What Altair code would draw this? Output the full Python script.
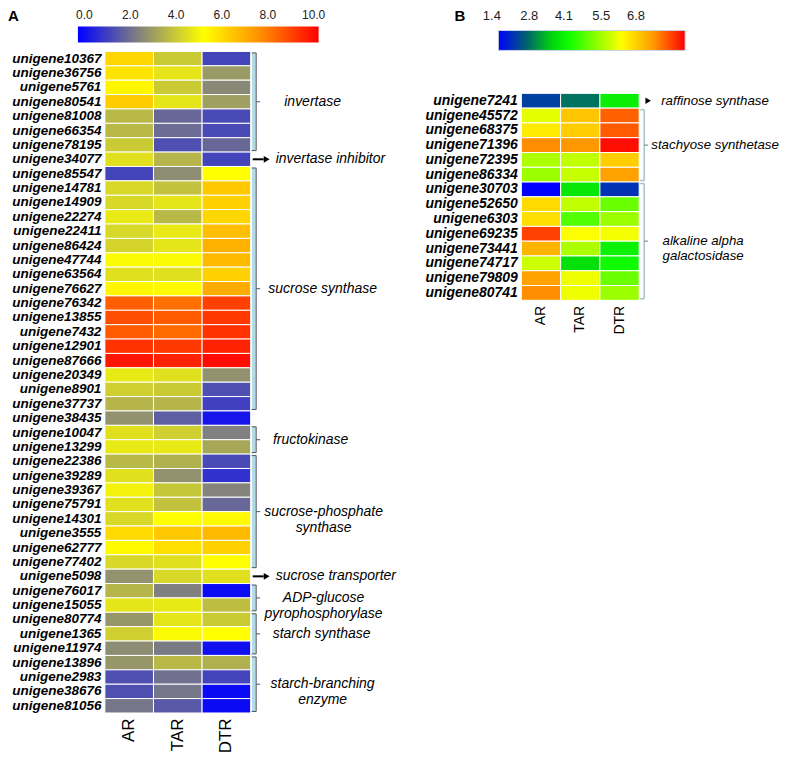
import altair as alt
import pandas as pd

FONT = "Liberation Sans"
samples = ["AR", "TAR", "DTR"]

# ---------------- Panel A data ----------------
a_genes = [
    "unigene10367", "unigene36756", "unigene5761", "unigene80541", "unigene81008",
    "unigene66354", "unigene78195", "unigene34077", "unigene85547", "unigene14781",
    "unigene14909", "unigene22274", "unigene22411", "unigene86424", "unigene47744",
    "unigene63564", "unigene76627", "unigene76342", "unigene13855", "unigene7432",
    "unigene12901", "unigene87666", "unigene20349", "unigene8901", "unigene37737",
    "unigene38435", "unigene10047", "unigene13299", "unigene22386", "unigene39289",
    "unigene39367", "unigene75791", "unigene14301", "unigene3555", "unigene62777",
    "unigene77402", "unigene5098", "unigene76017", "unigene15055", "unigene80774",
    "unigene1365", "unigene11974", "unigene13896", "unigene2983", "unigene38676",
    "unigene81056",
]
a_ar = [6.4, 6.1, 5.7, 6.6, 3.9, 3.9, 4.3, 4.8,
        1.4, 4.6, 4.6, 5.0, 4.6, 4.5, 5.4, 4.8, 5.7,
        8.8, 9.1, 8.9, 9.6, 10.1,
        5.0, 4.4, 3.8, 3.0, 4.8, 5.0,
        3.9, 4.8, 5.2, 4.8, 4.6, 6.3, 5.6, 4.6,
        3.0, 3.8, 4.9, 3.1, 4.4, 2.9, 3.1, 1.6, 1.6, 2.4]
a_tar = [4.3, 4.9, 4.3, 4.9, 2.1, 2.2, 1.6, 3.8,
         2.9, 4.1, 4.9, 3.9, 5.0, 4.9, 5.4, 4.8, 5.6,
         8.5, 8.9, 8.6, 9.5, 9.9,
         4.8, 4.3, 3.8, 1.9, 4.4, 5.0,
         3.7, 3.0, 4.2, 4.1, 5.5, 6.7, 6.2, 4.8,
         4.6, 2.6, 5.0, 4.9, 5.4, 2.5, 3.9, 2.3, 2.4, 1.8]
a_dtr = [1.4, 3.2, 2.8, 3.3, 1.5, 1.5, 2.1, 1.4,
         5.5, 6.7, 6.5, 6.4, 6.9, 7.2, 7.0, 6.5, 7.3,
         9.35, 9.5, 9.6, 9.9, 10.3,
         3.0, 1.6, 1.3, 0.4, 2.6, 3.5,
         1.5, 1.0, 2.7, 2.1, 5.6, 7.0, 6.5, 5.5,
         4.8, 0.2, 4.0, 4.3, 5.5, 0.3, 3.7, 1.4, 0.2, 0.2]
a_group_names = ["invertase", "sucrose synthase", "fructokinase",
                 "sucrose-phosphate\nsynthase", "ADP-glucose\npyrophosphorylase",
                 "starch synthase", "starch-branching\nenzyme"]
a_group_first = ["unigene10367", "unigene85547", "unigene10047", "unigene22386",
                 "unigene76017", "unigene80774", "unigene13896"]
a_group_last = ["unigene78195", "unigene37737", "unigene13299", "unigene77402",
                "unigene15055", "unigene11974", "unigene81056"]
a_arrow_names = ["invertase inhibitor", "sucrose transporter"]
a_arrow_genes = ["unigene34077", "unigene5098"]
a_scale_ticks = [0, 2, 4, 6, 8, 10]
a_scale_extent = [0, 10.5]
a_color_domain = [0, 2.6, 5.5, 8.0, 10.5]
a_color_range = ["#0000ff", "#808080", "#ffff00", "#ff8c00", "#ff0000"]

# ---------------- Panel B data ----------------
b_genes = ["unigene7241", "unigene45572", "unigene68375", "unigene71396", "unigene72395",
           "unigene86334", "unigene30703", "unigene52650", "unigene6303", "unigene69235",
           "unigene73441", "unigene74717", "unigene79809", "unigene80741"]
b_ar = [2.1, 5.8, 6.25, 7.3, 5.35, 5.2, 1.4, 6.45, 6.4, 7.9, 6.9, 5.6, 7.1, 7.3]
b_tar = [2.6, 6.7, 6.6, 7.22, 5.5, 5.55, 3.7, 5.5, 4.6, 6.0, 5.35, 3.6, 5.9, 5.9]
b_dtr = [3.8, 7.65, 7.7, 8.3, 6.6, 7.1, 1.95, 4.8, 5.2, 5.95, 3.85, 4.0, 4.8, 5.2]
b_group_names = ["stachyose synthetase", "alkaline alpha\ngalactosidase"]
b_group_first = ["unigene45572", "unigene30703"]
b_group_last = ["unigene86334", "unigene80741"]
b_arrow_names = ["raffinose synthase"]
b_arrow_genes = ["unigene7241"]
b_scale_ticks = [1.4, 2.8, 4.1, 5.5, 6.8]
b_scale_extent = [1.4, 8.4]
b_color_domain = [1.4, 2.45, 3.36, 4.06, 6.02, 7.21, 8.4]
b_color_range = ["#0000ff", "#006070", "#00d010", "#10ff00", "#ffff00", "#ff9900", "#ff0000"]


def long_table(genes, cols):
    rows = []
    for s, vals in zip(samples, cols):
        for g, v in zip(genes, vals):
            rows.append({"gene": g, "sample": s, "value": v})
    return pd.DataFrame(rows)


def groups_table(genes, names, firsts, lasts):
    rows = []
    for n, f, l in zip(names, firsts, lasts):
        i0, i1 = genes.index(f), genes.index(l)
        rows.append({"name": n, "first": f, "last": l,
                     "mid": genes[(i0 + i1) // 2], "even": int((i1 - i0) % 2 == 1)})
    return pd.DataFrame(rows)


def build_panel(genes, cols, cdom, crange, extent, ticks, groups_df, arrows_df, letter, s):
    w, rh, top = s["w"], s["row_h"], s["top"]
    h = top + rh * len(genes)
    yscale = alt.Scale(domain=genes, range=[top, h], paddingInner=0, paddingOuter=0)

    def Y(f):
        return alt.Y(f + ":N", scale=yscale, title=None)

    heat = alt.Chart(long_table(genes, cols)).mark_rect(stroke="white", strokeWidth=1).encode(
        x=alt.X("sample:N", sort=samples,
                scale=alt.Scale(domain=samples, paddingInner=0, paddingOuter=0),
                axis=alt.Axis(title=None, labelAngle=270, labelFontSize=s["xfs"], labelFont=FONT,
                              labelColor="black", ticks=False, domain=False, labelPadding=5)),
        y=alt.Y("gene:N", scale=yscale, title=None,
                axis=alt.Axis(labelFontSize=s["yfs"], labelFont=FONT, labelFontStyle="italic",
                              labelFontWeight="bold", labelColor="black", ticks=False,
                              domain=False, labelPadding=4, labelLimit=0)),
        color=alt.Color("value:Q", scale=alt.Scale(domain=cdom, range=crange, interpolate="rgb"),
                        legend=None),
    )

    span = extent[1] - extent[0]
    stops = [alt.GradientStop(color=c, offset=(d - extent[0]) / span) for d, c in zip(cdom, crange)]
    cb_kwargs = {}
    if s.get("cb_stroke"):
        cb_kwargs = {"stroke": s["cb_stroke"], "strokeWidth": 1}
    cbar = alt.Chart(pd.DataFrame({"lo": [extent[0]], "hi": [extent[1]]})).mark_rect(
        fill=alt.Gradient(gradient="linear", stops=stops, x1=0, x2=1, y1=0, y2=0), **cb_kwargs
    ).encode(
        x=alt.X("lo:Q", scale=alt.Scale(domain=extent, range=s["cb_range"], nice=False, zero=False),
                axis=alt.Axis(orient="top", values=ticks, format=".1f", offset=s["cb_offset"],
                              domain=False, ticks=False, grid=False, labelPadding=s["cb_pad"],
                              labelFontSize=s["cb_fs"], labelOffset=s["cb_loff"], labelColor="#222",
                              labelFont=FONT, labelFlush=False, labelOverlap=False, title=None)),
        x2="hi:Q",
        y=alt.value(s["cb_y"][0]),
        y2=alt.value(s["cb_y"][1]),
    )

    layers = [heat, cbar]

    g = alt.Chart(groups_df)
    off = rh / 2 - 1.5
    bx0, bx1 = w + s["br_x0"], w + s["br_x1"]
    if s.get("br_fill_w"):
        layers.append(g.mark_rule(color=s["br_fill"], strokeWidth=s["br_fill_w"], yOffset=-off,
                                  y2Offset=off).encode(
            x=alt.value((bx0 + bx1) / 2), y=Y("first"), y2=alt.Y2("last:N")))
    lc, lw = s["br_line"], s["br_line_w"]
    layers.append(g.mark_rule(color=lc, strokeWidth=lw, yOffset=-off, y2Offset=off).encode(
        x=alt.value(bx1), y=Y("first"), y2=alt.Y2("last:N")))
    layers.append(g.mark_rule(color=lc, strokeWidth=lw, yOffset=-off).encode(
        x=alt.value(bx0), x2=alt.value(bx1), y=Y("first")))
    layers.append(g.mark_rule(color=lc, strokeWidth=lw, yOffset=off).encode(
        x=alt.value(bx0), x2=alt.value(bx1), y=Y("last")))
    for ev in (0, 1):
        yo = rh / 2 if ev else 0
        gf = g.transform_filter(alt.datum.even == ev)
        layers.append(gf.mark_rule(color=s["tick_c"], strokeWidth=1, yOffset=yo).encode(
            x=alt.value(bx1), x2=alt.value(bx1 + 4), y=Y("mid")))
    # group labels, one layer per group so each can sit at its own horizontal position
    for name, dx, ev in zip(groups_df["name"], s["txt_dx"], groups_df["even"]):
        yo = rh / 2 if ev else 0
        layers.append(g.transform_filter(alt.datum.name == name).mark_text(
            align="center", baseline="middle", fontStyle="italic", fontSize=s["afs"], font=FONT,
            color="black", lineBreak="\n", yOffset=yo, lineHeight=s["afs"] + 2).encode(
            x=alt.value(w + dx), y=Y("mid"), text="name:N"))

    a = alt.Chart(arrows_df)
    if s.get("shaft"):
        layers.append(a.mark_rule(color="black", strokeWidth=2).encode(
            x=alt.value(w + 2), x2=alt.value(w + s["head_x"] - 3), y=Y("gene")))
    layers.append(a.mark_point(shape="triangle-right", filled=True, color="black", opacity=1,
                               size=s["head_size"]).encode(
        x=alt.value(w + s["head_x"]), y=Y("gene")))
    layers.append(a.mark_text(align="left", baseline="middle", fontStyle="italic",
                              fontSize=s["afs"], font=FONT, color="black").encode(
        x=alt.value(w + s["arrow_txt"]), y=Y("gene"), text="name:N"))

    layers.append(alt.Chart(pd.DataFrame({"t": [letter]})).mark_text(
        align="left", baseline="top", fontWeight="bold", fontSize=15, font=FONT, color="black"
    ).encode(x=alt.value(s["letter_xy"][0]), y=alt.value(s["letter_xy"][1]), text="t:N"))

    return alt.layer(*layers).resolve_scale(x="independent").properties(width=w, height=h)


style_a = dict(w=146, row_h=14.4, top=0, xfs=17, yfs=13.5, afs=14,
               cb_range=[-27, 214], cb_y=[-25, -9], cb_offset=25, cb_pad=5, cb_fs=12, cb_loff=6,
               br_x0=1, br_x1=5.5, br_fill="#b4dce6", br_fill_w=4, br_line="#4a5560",
               br_line_w=1, tick_c="#4a5560", txt_dx=[62, 72, 60, 73, 73, 71, 72],
               shaft=True, head_x=16, head_size=45, arrow_txt=25, letter_xy=[-97, -42])
style_b = dict(w=118, row_h=14.8, top=42, xfs=14, yfs=14, afs=13.3,
               cb_range=[-23, 164], cb_y=[-21, -1], cb_offset=21, cb_pad=8, cb_fs=13, cb_loff=-7,
               cb_stroke="#c8d4e4",
               br_x0=1, br_x1=5, br_line="#a6c2ca", br_line_w=1.5, tick_c="#6a7a80",
               txt_dx=[76, 64],
               shaft=False, head_x=9, head_size=40, arrow_txt=22, letter_xy=[-67, -42])

panel_a = build_panel(a_genes, [a_ar, a_tar, a_dtr], a_color_domain, a_color_range,
                      a_scale_extent, a_scale_ticks,
                      groups_table(a_genes, a_group_names, a_group_first, a_group_last),
                      pd.DataFrame({"name": a_arrow_names, "gene": a_arrow_genes}), "A", style_a)
panel_b = build_panel(b_genes, [b_ar, b_tar, b_dtr], b_color_domain, b_color_range,
                      b_scale_extent, b_scale_ticks,
                      groups_table(b_genes, b_group_names, b_group_first, b_group_last),
                      pd.DataFrame({"name": b_arrow_names, "gene": b_arrow_genes}), "B", style_b)

chart = alt.hconcat(panel_a, panel_b, spacing=28,
                    padding={"left": 0, "top": 0, "right": 0, "bottom": 0}
                    ).resolve_scale(color="independent").configure_view(stroke=None)

chart.save("out.html", embed_options={"renderer": "svg", "actions": False})
